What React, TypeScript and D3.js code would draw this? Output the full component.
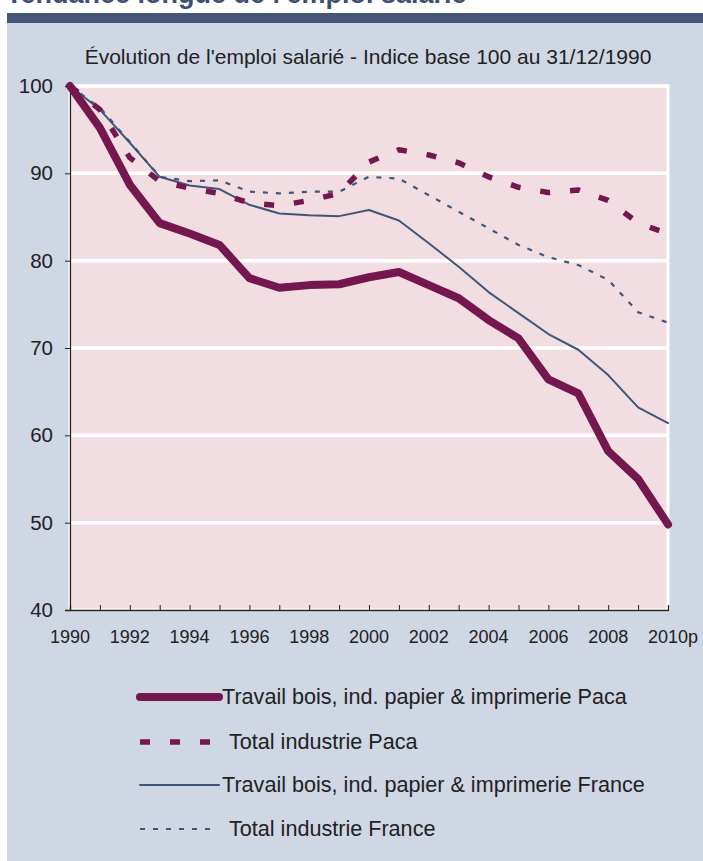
import React, { useEffect, useRef } from 'react';
import * as d3 from 'd3';

const years = [1990, 1991, 1992, 1993, 1994, 1995, 1996, 1997, 1998, 1999, 2000,
  2001, 2002, 2003, 2004, 2005, 2006, 2007, 2008, 2009, 2010];
const yearLabels = ['1990', '1992', '1994', '1996', '1998', '2000', '2002', '2004', '2006', '2008', '2010p'];
const yTicks = [40, 50, 60, 70, 80, 90, 100];

const boisPaca = [100, 95.2, 88.7, 84.3, 83.1, 81.8, 78.0, 76.9, 77.2, 77.3, 78.1,
  78.7, 77.2, 75.7, 73.2, 71.1, 66.4, 64.8, 58.2, 55.0, 49.8];
const industriePaca = [100, 97.3, 91.8, 89.1, 88.3, 87.7, 86.6, 86.3, 86.9, 87.7, 91.3,
  92.7, 92.1, 91.2, 89.6, 88.4, 87.8, 88.1, 86.9, 84.3, 83.1];
const boisFrance = [100, 97.3, 93.5, 89.6, 88.6, 88.2, 86.4, 85.4, 85.2, 85.1, 85.8,
  84.6, 82.0, 79.3, 76.4, 74.0, 71.6, 69.8, 66.9, 63.2, 61.4];
const industrieFrance = [100, 97.5, 93.6, 89.6, 89.1, 89.2, 87.9, 87.7, 87.9, 87.9, 89.6,
  89.4, 87.5, 85.6, 83.7, 81.8, 80.4, 79.5, 77.8, 74.1, 72.9];

const MAROON = '#74174f';
const BLUE = '#3f5677';

const series = [
  { name: 'Travail bois, ind. papier & imprimerie Paca', values: boisPaca, color: MAROON, width: 8, dash: null, legendEnd: 219, textX: 222 },
  { name: 'Total industrie Paca', values: industriePaca, color: MAROON, width: 5.5, dash: '10,20', legendEnd: 212, textX: 229 },
  { name: 'Travail bois, ind. papier & imprimerie France', values: boisFrance, color: BLUE, width: 2, dash: null, legendEnd: 219, textX: 222 },
  { name: 'Total industrie France', values: industrieFrance, color: BLUE, width: 2.2, dash: '5,8', legendEnd: 214, textX: 229 },
];

const FONT = '"Liberation Sans", Arial, sans-serif';

export default function App() {
  const svgRef = useRef<SVGSVGElement>(null);

  useEffect(() => {
    if (!svgRef.current) return;
    const svg = d3.select(svgRef.current);
    svg.selectAll('*').remove();

    const W = 703, H = 861;
    const left = 70, right = 668, top = 86, bottom = 610;

    // header (title cropped at the top edge, as in the source)
    svg.append('rect').attr('x', 0).attr('y', 0).attr('width', W).attr('height', H).attr('fill', '#fff');
    svg.append('text')
      .attr('x', 6).attr('y', 3)
      .attr('font-family', FONT).attr('font-weight', 'bold').attr('font-size', 27)
      .attr('fill', '#3d4f73')
      .text("Tendance longue de l'emploi salarié");
    svg.append('rect').attr('x', 7).attr('y', 13).attr('width', W - 7).attr('height', 10).attr('fill', '#45567a');
    svg.append('rect').attr('x', 7).attr('y', 23).attr('width', W - 7).attr('height', H - 23).attr('fill', '#cfd6e4');

    svg.append('text')
      .attr('x', 368).attr('y', 64)
      .attr('text-anchor', 'middle')
      .attr('font-family', FONT).attr('font-size', 21).attr('fill', '#222')
      .text("Évolution de l'emploi salarié - Indice base 100 au 31/12/1990");

    const x = d3.scaleLinear().domain([1990, 2010]).range([left, right]);
    const y = d3.scaleLinear().domain([40, 100]).range([bottom, top]);

    // plot area
    svg.append('rect')
      .attr('x', left).attr('y', top).attr('width', right - left).attr('height', bottom - top)
      .attr('fill', '#f2dde2').attr('stroke', '#fff').attr('stroke-width', 3);

    svg.append('g').selectAll('line').data(yTicks.filter(t => t > 40)).enter().append('line')
      .attr('x1', left).attr('x2', right)
      .attr('y1', d => y(d)).attr('y2', d => y(d))
      .attr('stroke', '#fff').attr('stroke-width', 3.5);

    // axes
    const yAxis = svg.append('g').attr('transform', `translate(${left},0)`)
      .call(d3.axisLeft(y).tickValues(yTicks).tickSize(5).tickPadding(12).tickFormat(d3.format('d')));
    yAxis.select('.domain').attr('stroke', '#222').attr('stroke-width', 1.3);
    yAxis.selectAll('.tick line').attr('stroke', '#222');
    yAxis.selectAll('text').attr('font-family', FONT).attr('font-size', 20.5).attr('fill', '#222');

    const xAxis = svg.append('g').attr('transform', `translate(0,${bottom})`)
      .call(d3.axisTop(x).tickValues(years).tickSize(5).tickFormat(() => ''));
    xAxis.select('.domain').attr('stroke', '#222').attr('stroke-width', 1.3);
    xAxis.selectAll('.tick line').attr('stroke', '#222');

    svg.append('g').selectAll('text').data(yearLabels).enter().append('text')
      .attr('x', (d, i) => x(years[i * 2]) + (d.length > 4 ? 5 : 0))
      .attr('y', 643)
      .attr('text-anchor', 'middle')
      .attr('font-family', FONT).attr('font-size', 18).attr('fill', '#222')
      .text(d => d);

    // lines
    const line = d3.line<number>()
      .x((d, i) => x(years[i]))
      .y(d => y(d));

    const order = [3, 2, 1, 0];
    order.forEach(k => {
      const s = series[k];
      const p = svg.append('path')
        .attr('d', line(s.values) as string)
        .attr('fill', 'none')
        .attr('stroke', s.color)
        .attr('stroke-width', s.width)
        .attr('stroke-linejoin', 'round')
        .attr('stroke-linecap', s.dash ? 'butt' : 'round');
      if (s.dash) p.attr('stroke-dasharray', s.dash);
    });

    // legend
    const legendY = [697, 742, 785, 829];
    series.forEach((s, i) => {
      const ly = legendY[i];
      const l = svg.append('line')
        .attr('x1', 140).attr('x2', s.legendEnd)
        .attr('y1', ly).attr('y2', ly)
        .attr('stroke', s.color).attr('stroke-width', s.width)
        .attr('stroke-linecap', s.dash ? 'butt' : 'round');
      if (s.dash) l.attr('stroke-dasharray', s.dash);
      svg.append('text')
        .attr('x', s.textX).attr('y', ly + 7)
        .attr('font-family', FONT).attr('font-size', 21.6).attr('fill', '#222')
        .text(s.name);
    });
  }, []);

  return (
    <svg
      ref={svgRef}
      width={703}
      height={861}
      style={{ position: 'absolute', left: 0, top: 0, display: 'block' }}
    />
  );
}
